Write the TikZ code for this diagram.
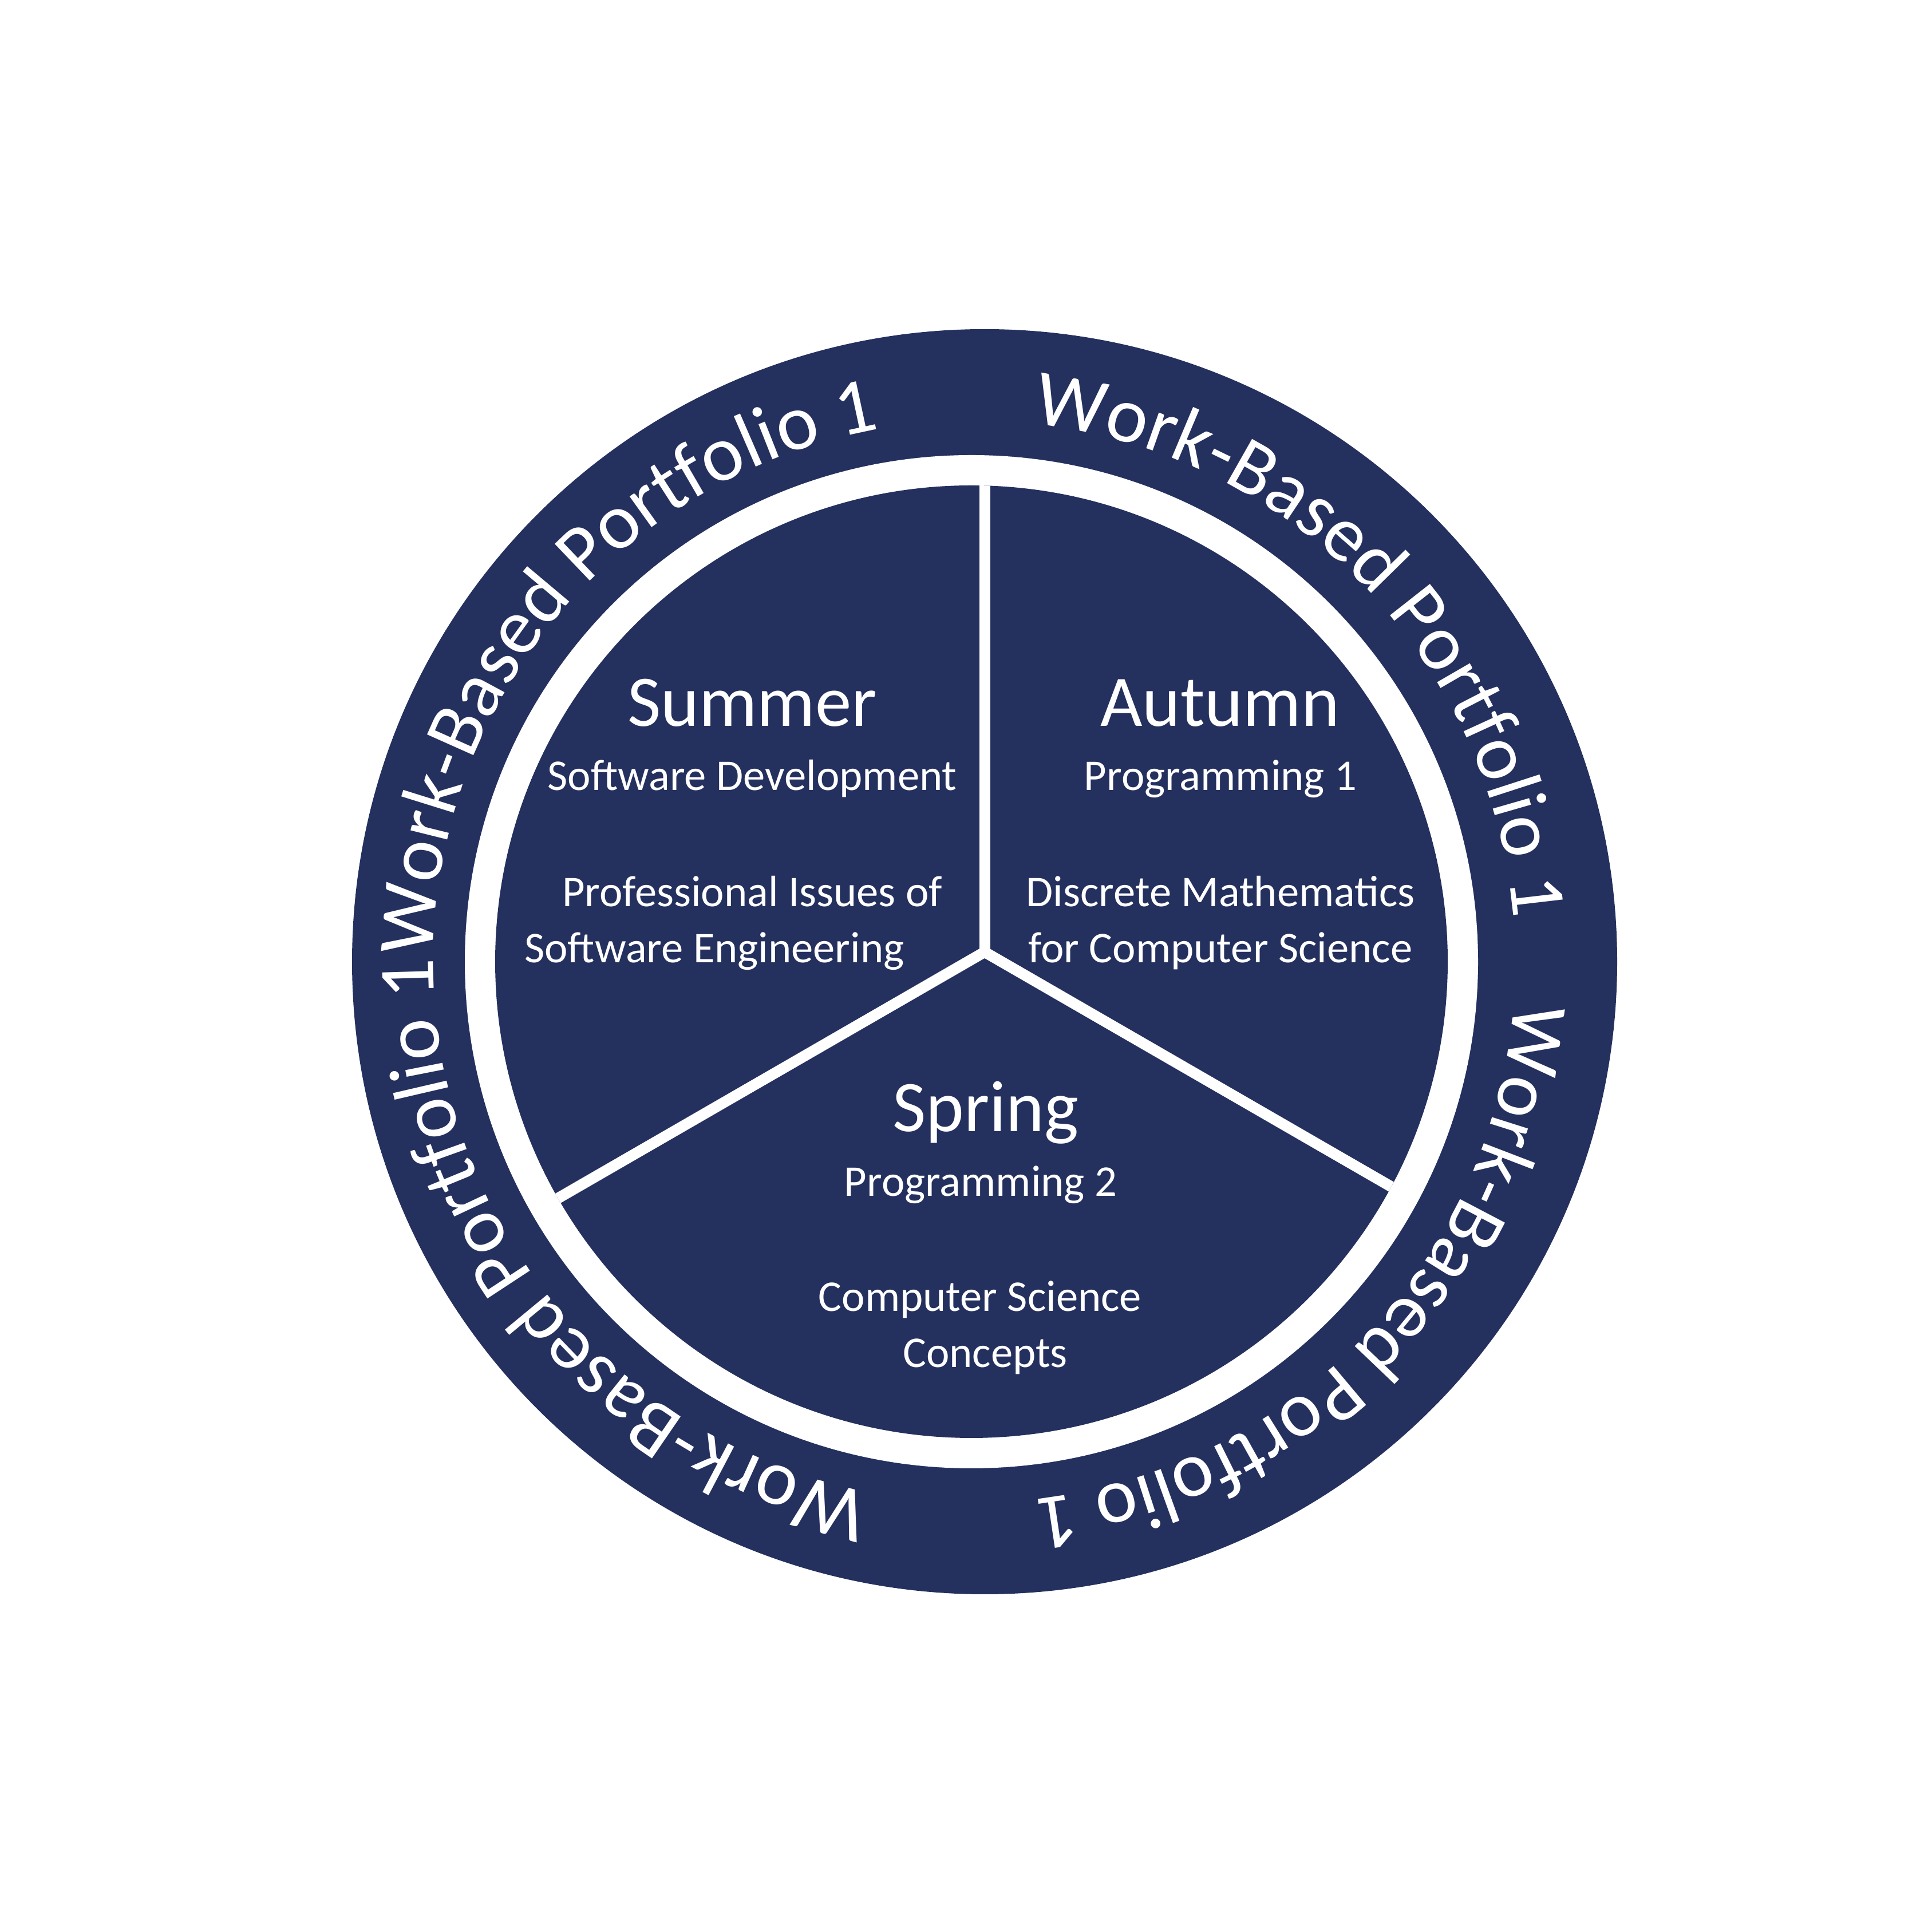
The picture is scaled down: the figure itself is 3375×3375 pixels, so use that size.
\documentclass[tikz,border=0pt]{standalone}
\usepackage{fontspec}
\setmainfont{Carlito}
\usetikzlibrary{decorations.text}
\definecolor{navy}{RGB}{36,48,94}
\newcommand\WBring{\fontsize{39.3pt}{47pt}\selectfont}
\newcommand\WBtitle{\fontsize{36.1pt}{43pt}\selectfont}
\newcommand\WBbody{\fontsize{21.8pt}{26pt}\selectfont}
\begin{document}
\begin{tikzpicture}[x=0.01cm,y=0.01cm,
  title/.style={text=white, inner sep=0pt, anchor=base, font=\WBtitle},
  body/.style={text=white, inner sep=0pt, anchor=base, font=\WBbody},
  divider/.style={white, line width=0.19cm, line cap=butt},
  ringtext/.style={decorate, decoration={text along path, text align=center,
    text format delimiters={|}{|},
    text={|\WBring\color{white}|Work-Based Portfolio 1}}}]
\useasboundingbox (0,0) rectangle (3375,3375);
% discs
\coordinate (oc) at (1720,1695);
\coordinate (ic) at (1697,1695);
\coordinate (rc) at (1702,1695);
\fill[navy] (oc) circle[radius=1105];
\fill[white] (ic) circle[radius=885];
\fill[navy] (ic) circle[radius=832];
% dividers
\coordinate (hub) at (1720,1712);
\coordinate (endup) at ([shift={(90:1000)}]hub);
\coordinate (endleft) at ([shift={(210:1000)}]hub);
\coordinate (endright) at ([shift={(330:1000)}]hub);
\begin{scope}
\clip (ic) circle[radius=832];
\draw[divider] (hub) -- (endup);
\draw[divider] (hub) -- (endleft);
\draw[divider] (hub) -- (endright);
\end{scope}
% ring texts
\path[ringtext] ([shift={(209.7:945)}]rc) arc[start angle=209.7, end angle=69.7, radius=945];
\path[ringtext] ([shift={(114.2:945)}]rc) arc[start angle=114.2, end angle=-25.8, radius=945];
\path[ringtext] ([shift={(26.05:945)}]rc) arc[start angle=26.05, end angle=-113.95, radius=945];
\path[ringtext] ([shift={(-70.7:945)}]rc) arc[start angle=-70.7, end angle=-210.7, radius=945];
% labels
\node[title] (summer) at (1314,2106) {Summer};
\node[body] (sd) at (1314,1994) {Software Development};
\node[body] (pi) at (1314,1791) {Professional Issues of};
\node[body] (se) at (1248,1693) {Software Engineering};
\node[title] (autumn) at (2131,2106) {Autumn};
\node[body] (p1) at (2132,1994) {Programming 1};
\node[body] (dm) at (2132,1791) {Discrete Mathematics};
\node[body] (fcs) at (2132,1693) {for Computer Science};
\node[title] (spring) at (1722,1398) {Spring};
\node[body] (p2) at (1713,1285) {Programming 2};
\node[body] (csc) at (1712,1084) {Computer Science};
\node[body] (conc) at (1721,986) {Concepts};
\end{tikzpicture}
\end{document}
